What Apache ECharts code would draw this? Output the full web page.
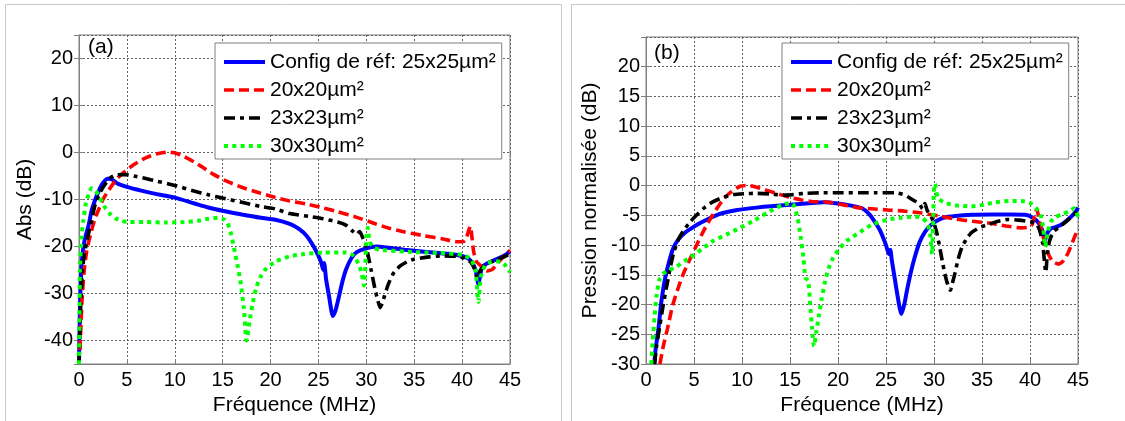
<!DOCTYPE html>
<html><head><meta charset="utf-8">
<script src="https://cdn.jsdelivr.net/npm/echarts@6/dist/echarts.min.js"></script>
<style>html,body{margin:0;padding:0;background:#fff}#c{width:1125px;height:421px}</style>
</head><body><div id="c"></div>
<script>
// ---------- DATA ----------
const seriesNames = ['Config de réf: 25x25µm²', '20x20µm²', '23x23µm²', '30x30µm²'];
const panelLabels = ['(a)', '(b)'];
const xTitle = 'Fréquence (MHz)';
const yTitles = ['Abs (dB)', 'Pression normalisée (dB)'];

// Panel (a): Abs (dB) vs frequency (MHz)
const absRef = [[0,-45],[0.1,-33],[0.3,-23],[0.6,-18.5],[1.0,-15.5],[1.3,-12.5],[1.7,-10],[2.1,-8],[2.5,-6.5],[3.0,-5.6],[3.4,-5.7],[4,-6.6],[5,-7.3],[6.5,-8.1],[8,-8.8],[10,-9.6],[12,-10.8],[13.5,-11.7],[15,-12.4],[17,-13.2],[19,-13.9],[20.5,-14.3],[22,-15.2],[23,-16.3],[23.8,-17.8],[24.5,-20],[25,-22],[25.3,-23.5],[25.5,-25],[25.6,-23.5],[25.8,-27],[26.1,-30.5],[26.5,-34.8],[26.8,-33.5],[27.1,-31],[27.5,-27.5],[27.9,-24.8],[28.5,-22.3],[29,-21.2],[30,-20.4],[31,-20],[32.5,-20.3],[34,-20.7],[36,-21.1],[38,-21.5],[39.5,-21.8],[40.5,-22.4],[41,-23.3],[41.4,-25],[41.7,-28],[41.9,-26],[42.1,-24.3],[42.6,-23.6],[43.5,-22.8],[44.5,-21.8],[45,-21]];
const abs20 = [[0.1,-42],[0.3,-32],[0.5,-26],[0.8,-21],[1.2,-17.5],[1.6,-14.5],[2,-12.4],[2.5,-10],[3.1,-8],[4,-5.5],[4.8,-4],[5.7,-2.6],[6.6,-1.5],[7.5,-0.7],[8.3,-0.2],[9.3,0.1],[10.2,-0.2],[11,-0.9],[12,-2],[12.8,-3],[14,-4.6],[15.3,-6],[17,-7.4],[18.7,-8.5],[20.5,-9.6],[22,-10.3],[23.8,-11],[25.5,-11.8],[27,-12.6],[29,-13.8],[31,-15.2],[32.5,-16.2],[34,-16.9],[36,-17.7],[38,-18.4],[39.5,-19],[40.3,-18.8],[40.7,-16.5],[40.85,-15.7],[41,-17.5],[41.2,-21],[41.5,-23.2],[42,-24.2],[42.6,-25.2],[43.2,-24.8],[43.8,-23.3],[44.4,-22],[45,-20.8]];
const abs23 = [[0,-45],[0.1,-37],[0.3,-27],[0.5,-22.5],[0.8,-19],[1.2,-15.5],[1.7,-11],[2.2,-8.5],[2.7,-6.8],[3.2,-5.5],[3.8,-4.8],[4.8,-4.7],[6,-5.1],[7.5,-5.8],[10,-7],[12,-8.2],[13.5,-9],[15,-9.7],[17,-10.6],[19,-11.5],[20.5,-12],[22,-13],[24,-13.6],[25.5,-14.1],[27,-14.8],[27.9,-15.5],[28.6,-16.8],[29,-17.4],[29.3,-16.8],[29.6,-18],[29.9,-19.3],[30.2,-22],[30.5,-25],[30.9,-29],[31.2,-31.5],[31.45,-33],[31.7,-31.8],[31.9,-30.5],[32.3,-28],[32.8,-25.8],[33.5,-24.2],[34.3,-23.2],[35,-22.7],[36.6,-22.2],[38,-22],[39.4,-22.1],[40.3,-22.5],[40.9,-23.3],[41.3,-24.8],[41.6,-26.8],[41.8,-25.5],[42.1,-24.6],[42.9,-23.4],[44,-22.5],[45,-21.6]];
const abs30 = [[0,-45],[0.05,-35],[0.1,-25],[0.25,-18],[0.45,-14.5],[0.7,-11],[1.0,-8.9],[1.3,-7.6],[1.6,-7.9],[2,-8.9],[2.4,-10.5],[2.8,-12],[3.3,-13.2],[3.8,-14],[4.5,-14.6],[5.2,-14.8],[7,-14.8],[9,-14.9],[11,-14.8],[12.5,-14.5],[13.5,-14.1],[14.5,-13.9],[15.1,-14.2],[15.5,-15],[15.9,-17.5],[16.3,-21.5],[16.6,-24.5],[16.9,-28],[17.2,-33],[17.5,-40],[17.8,-36],[18.1,-32.5],[18.5,-28.8],[19,-26.3],[19.5,-24.8],[20.5,-23.2],[22,-22.1],[23.5,-21.6],[25.5,-21.3],[27.9,-21.3],[28.7,-22],[29.2,-23.8],[29.5,-25.6],[29.75,-28.3],[29.9,-24],[30,-18],[30.15,-16],[30.35,-19],[30.8,-20.3],[31.5,-20.7],[34,-21.1],[37.7,-21.4],[40.1,-21.8],[40.9,-22.7],[41.4,-25],[41.7,-31.8],[41.95,-26.5],[42.4,-24],[43,-23.3],[44,-23.2],[44.6,-24.2],[45,-25.5]];

// Panel (b): normalised pressure (dB) vs frequency (MHz)
const presRef = [[0.85,-30],[1.0,-27.5],[1.3,-24],[1.6,-19.5],[2.0,-15.5],[2.5,-12.2],[2.9,-10.3],[3.4,-9],[4,-8],[5,-6.9],[6,-6],[7,-5.2],[8,-4.6],[9.5,-4.1],[11.5,-3.7],[13,-3.45],[15,-3.2],[17,-2.95],[18.5,-2.8],[20,-3],[21.5,-3.4],[22.5,-3.8],[23.2,-4.7],[23.8,-6],[24.4,-7.6],[25,-10],[25.3,-11.5],[25.45,-10.8],[25.6,-12.5],[25.9,-15.5],[26.2,-18.5],[26.6,-21.6],[26.9,-20],[27.2,-17.5],[27.6,-14.5],[28,-12],[28.5,-9.5],[29.1,-7.7],[29.7,-6.6],[30.3,-5.9],[31,-5.4],[32.2,-5.1],[34,-4.9],[36,-4.85],[38,-4.85],[39.5,-4.9],[40.3,-5.4],[40.9,-6.3],[41.3,-7.6],[41.55,-9.2],[41.8,-8],[42.2,-7.2],[42.8,-6.9],[43.5,-6.3],[44.3,-5.2],[44.8,-4.3],[45,-3.7]];
const pres20 = [[1.45,-30],[1.8,-27],[2.2,-24.3],[2.8,-20],[3.4,-17],[3.9,-14.8],[4.6,-12.3],[5.3,-9.9],[6,-7.6],[6.7,-5.6],[7.4,-3.8],[8.1,-2.2],[8.9,-1],[9.8,-0.1],[10.6,0.05],[11.6,-0.3],[12.6,-0.8],[13.8,-1.4],[15,-2],[16.2,-2.4],[17.4,-2.7],[18.8,-2.75],[20.5,-3.2],[22,-3.7],[23.5,-3.9],[25.2,-4.1],[27,-4.3],[28.7,-4.6],[30.5,-5.1],[32.2,-5.6],[34,-6],[35.7,-6.3],[37.5,-6.8],[39.1,-7.1],[39.8,-7],[40.2,-6.6],[40.5,-5],[40.7,-4],[40.9,-5.2],[41.1,-6.8],[41.4,-8.8],[41.7,-10.5],[42,-11.8],[42.4,-12.8],[43,-13.2],[43.5,-12.6],[44,-11.2],[44.5,-9.2],[45,-7.2]];
const pres23 = [[0.9,-30],[1.1,-27],[1.45,-23.5],[1.8,-20],[2.15,-17],[2.5,-14],[2.85,-11.5],[3.3,-9.3],[3.9,-7.6],[4.6,-6.1],[5.3,-4.9],[6.1,-3.7],[7,-2.7],[8,-2],[9.1,-1.5],[10.3,-1.35],[11.5,-1.3],[13,-1.4],[14.2,-1.6],[15,-1.55],[16.5,-1.3],[18.5,-1.2],[20,-1.2],[22.3,-1.2],[24,-1.2],[26,-1.2],[26.8,-1.5],[27.4,-2],[28,-2.6],[28.5,-3.1],[28.8,-3.9],[29.05,-3],[29.3,-4.2],[29.7,-5.2],[30,-6.3],[30.3,-8],[30.6,-10.4],[30.9,-13],[31.2,-15.3],[31.5,-17],[31.7,-17.6],[31.9,-16.5],[32.2,-14.6],[32.5,-12.5],[32.9,-10.4],[33.4,-8.9],[33.9,-7.9],[34.8,-7],[35.7,-6.5],[36.7,-6],[37.7,-5.7],[38.8,-5.8],[39.8,-6],[40.6,-6.3],[41,-7.5],[41.3,-9.5],[41.55,-13.5],[41.65,-14.6],[41.8,-11.5],[42,-9.5],[42.4,-7.8],[43,-7],[43.8,-6],[44.5,-5],[45,-4.2]];
const pres30 = [[0.55,-30],[0.7,-26],[0.9,-22],[1.1,-18.5],[1.4,-15.8],[1.8,-14.8],[2.3,-14.3],[3.2,-13.6],[4,-12.7],[4.6,-12.1],[5.8,-10.7],[7,-9.3],[8.4,-8.2],[9.8,-7.1],[11.2,-5.9],[12.6,-4.6],[13.5,-3.8],[14.3,-3.2],[15.1,-2.9],[15.4,-3.3],[15.8,-5.5],[16.1,-8.5],[16.4,-12.1],[16.6,-15.5],[16.9,-16],[17.1,-20],[17.3,-24],[17.5,-27],[17.75,-24.5],[18,-22],[18.3,-19],[18.6,-16.5],[19,-14],[19.5,-12.1],[20.2,-10.5],[20.9,-9.3],[22.3,-7.8],[23.5,-6.6],[25.2,-5.7],[26.6,-5.4],[28,-5.2],[28.8,-5.5],[29.3,-6.3],[29.6,-8.2],[29.8,-11.5],[29.9,-7],[30,-0.2],[30.1,0.3],[30.4,-2.1],[31.2,-2.9],[32.2,-3.3],[33.9,-3.5],[35.2,-3.2],[36.4,-2.8],[37.8,-2.6],[39.1,-2.6],[40,-2.9],[40.6,-3.7],[41.1,-4.9],[41.4,-7.5],[41.6,-10.3],[41.85,-7.8],[42.2,-6],[42.6,-5.4],[43.3,-4.8],[44,-4.4],[44.6,-3.8],[45,-5.3]];

// ---------- STYLE ----------
const FONT = "'Liberation Sans', Arial, sans-serif";
const styles = [
  {color:'#0000ff', width:4, type:'solid'},
  {color:'#ff0000', width:3.6, type:[10,5]},
  {color:'#000000', width:3.6, type:[11,5,4,5]},
  {color:'#00ff00', width:4, type:[4,4.3]}
];
const panels = [
  {data:[absRef, abs20, abs23, abs30], grid:{left:79, top:35, width:431, height:333}, ymin:-45, ymax:25, legend:{left:215, top:43}, label:{x:88, y:48}},
  {data:[presRef, pres20, pres23, pres30], grid:{left:646, top:37, width:432, height:332}, ymin:-30, ymax:25, legend:{left:782, top:43}, label:{x:654, y:54}}
];

const AX = '#7f7f7f';
const grids = [], xAxes = [], yAxes = [], series = [], legends = [], graphics = [];
panels.forEach((p, i) => {
  grids.push(Object.assign({show:true, borderColor:AX, borderWidth:1, backgroundColor:'#fff'}, p.grid));
});
panels.forEach((p, i) => {
  xAxes.push({type:'value', gridIndex:i, min:0, max:45, interval:5, position:'bottom',
    axisLine:{show:true, onZero:false, lineStyle:{color:AX}},
    axisTick:{show:true, inside:true, length:5, lineStyle:{color:AX}},
    axisLabel:{margin:6, color:'#000', fontSize:20, fontFamily:FONT},
    splitLine:{show:true, lineStyle:{type:[2,2], color:'#606060', width:1}},
    name:xTitle, nameLocation:'middle', nameGap:31,
    nameTextStyle:{fontSize:21, color:'#000', fontFamily:FONT}});
  yAxes.push({type:'value', gridIndex:i, min:p.ymin, max:p.ymax,
    ...(i === 0 ? {splitNumber:7} : {interval:5}),
    axisLine:{show:true, onZero:false, lineStyle:{color:AX}},
    axisTick:{show:true, inside:true, length:5, lineStyle:{color:AX}},
    axisLabel:{margin:6, color:'#000', fontSize:20, fontFamily:FONT, showMinLabel:i===1, showMaxLabel:false,
      formatter: v => (i === 0 ? (v % 10 === 0 ? String(v) : '') : (v === 25 ? '' : String(v)))},
    splitLine:{show:true, lineStyle:{type:[2,2], color:'#606060', width:1}},
    name:yTitles[i], nameLocation:'middle', nameGap: i === 0 ? 43 : 45,
    nameTextStyle:{fontSize:21, color:'#000', fontFamily:FONT}});
});
panels.forEach((p, i) => {
  xAxes.push({type:'value', gridIndex:i, min:0, max:45, interval:5, position:'top',
    axisLine:{show:false}, axisTick:{show:true, inside:true, length:5, lineStyle:{color:AX}},
    axisLabel:{show:false}, splitLine:{show:false}});
  yAxes.push({type:'value', gridIndex:i, min:p.ymin, max:p.ymax, position:'right',
    ...(i === 0 ? {splitNumber:7} : {interval:5}),
    axisLine:{show:false}, axisTick:{show:true, inside:true, length:5, lineStyle:{color:AX}},
    axisLabel:{show:false}, splitLine:{show:false}});
});
panels.forEach((p, i) => {
  p.data.forEach((d, k) => {
    series.push({type:'line', name:seriesNames[k], xAxisIndex:i, yAxisIndex:i, data:d,
      symbol:'none', showSymbol:false, smooth:0.2, clip:true,
      lineStyle:{color:styles[k].color, width:styles[k].width, type:styles[k].type, cap:'butt'},
      itemStyle:{color:styles[k].color}, z:2+k});
  });
  legends.push({left:p.legend.left, top:p.legend.top, orient:'vertical',
    data:seriesNames.map((n, k) => ({name:n,
      lineStyle:{color:styles[k].color, width:styles[k].width, type:styles[k].type, cap:'butt'}})),
    itemWidth:41, itemHeight:14, itemGap:6, itemTextGap:4, padding:[8,6,2,7],
    itemStyle:{opacity:0, borderWidth:0},
    backgroundColor:'#fff', borderColor:AX, borderWidth:1, selectedMode:false, z:10,
    textStyle:{fontSize:21, lineHeight:22, color:'#000', fontFamily:FONT}});
  graphics.push({type:'text', left:p.label.x, top:p.label.y - 11, z:20,
    style:{text:panelLabels[i], font:'21px ' + FONT, fill:'#000'}});
});
graphics.unshift(
  {type:'rect', shape:{x:5.5, y:4.5, width:556, height:440}, style:{fill:'none', stroke:'#c8c8c8', lineWidth:1}, z:-10, silent:true},
  {type:'rect', shape:{x:571.5, y:4.5, width:560, height:440}, style:{fill:'none', stroke:'#c8c8c8', lineWidth:1}, z:-10, silent:true}
);

const chart = echarts.init(document.getElementById('c'), null, {renderer:'canvas'});
chart.setOption({animation:false, backgroundColor:'#fff', grid:grids, xAxis:xAxes, yAxis:yAxes,
  series:series, legend:legends, graphic:graphics});
</script></body></html>
